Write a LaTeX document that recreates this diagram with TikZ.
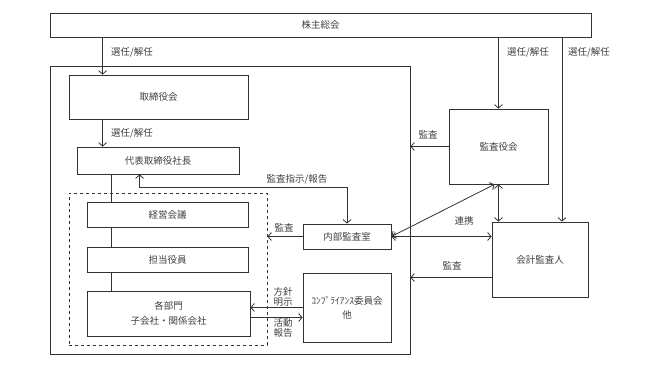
\documentclass[tikz,border=0pt]{standalone}
\usepackage{fontspec}
\setmainfont{Noto Sans CJK JP}
\usepackage{xcolor}
\usetikzlibrary{arrows.meta, positioning, calc}

\begin{document}
\begin{tikzpicture}[
  x=1pt, y=-1pt,
  font=\fontsize{9.5}{12}\selectfont,
  box/.style={draw=black!80, fill=white, text=black!75, align=center, inner sep=0pt, line width=0.8pt},
  lab/.style={text=black!75, align=center, inner sep=1pt, font=\fontsize{9.5}{11}\selectfont},
  arr/.style={-{Straight Barb[length=3.5pt,width=8pt]}, draw=black!80, line width=0.8pt},
  arr2/.style={{Straight Barb[length=3.5pt,width=8pt]}-{Straight Barb[length=3.5pt,width=8pt]}, draw=black!80, line width=0.8pt}
]
\useasboundingbox (0,0) rectangle (649,365);

% 枠（社内）
\node[box, fill=none, minimum width=360pt, minimum height=288pt] (outer) at (230,210) {};
\node[box, fill=none, dashed, minimum width=198pt, minimum height=152pt] (dash) at (168,269) {};

% 各ボックス
\node[box, minimum width=541pt, minimum height=24pt] (soukai) at (320.5,25) {株主総会};
\node[box, minimum width=179pt, minimum height=44pt] (torishimari) at (158.5,97) {取締役会};
\node[box, minimum width=162pt, minimum height=27pt] (daihyo) at (158,160.5) {代表取締役社長};
\node[box, minimum width=161pt, minimum height=25pt] (keiei) at (167.5,214.5) {経営会議};
\node[box, minimum width=161pt, minimum height=25pt] (tanto) at (167.5,259.5) {担当役員};
\node[box, minimum width=163pt, minimum height=45pt] (bumon) at (168.5,313.5) {各部門\\[3pt]子会社・関係会社};
\node[box, minimum width=88pt, minimum height=25pt] (naibu) at (347,236.5) {内部監査室};
\node[box, minimum width=88pt, minimum height=69pt] (compl) at (347,307.5) {ｺﾝﾌﾟﾗｲｱﾝｽ委員会\\[2pt]他};
\node[box, minimum width=99pt, minimum height=75pt] (kansayaku) at (498.5,146.5) {監査役会};
\node[box, minimum width=96pt, minimum height=75pt] (kaikei) at (540,259.5) {会計監査人};

% 選任/解任
\draw[arr] ([xshift=34pt]torishimari.north west |- soukai.south) -- ([xshift=34pt]torishimari.north west);
\draw[arr] ([xshift=34pt]torishimari.south west) -- ([xshift=34pt]torishimari.south west |- daihyo.north);
\draw[arr] (soukai.south -| kansayaku.north) -- (kansayaku.north);
\draw[arr] ([xshift=22pt]kaikei.north |- soukai.south) -- ([xshift=22pt]kaikei.north);
\node[lab] (l1) at (132,52) {選任/解任};
\node[lab] (l2) at (132,133) {選任/解任};
\node[lab] (l3) at (528,52) {選任/解任};
\node[lab] (l4) at (589,52) {選任/解任};

% 業務執行ライン
\draw[draw=black!80, line width=0.8pt] ([xshift=35pt]daihyo.south west) -- ([xshift=35pt]daihyo.south west |- keiei.north);
\draw[draw=black!80, line width=0.8pt] ([xshift=25pt]keiei.south west) -- ([xshift=25pt]keiei.south west |- tanto.north);
\draw[draw=black!80, line width=0.8pt] ([xshift=25pt]tanto.south west) -- ([xshift=25pt]tanto.south west |- bumon.north);

% 監査指示/報告
\draw[arr2] ([xshift=63pt]daihyo.south west) -- ++(0,13) -| (naibu.north);
\node[lab] (l5) at (297,179) {監査指示/報告};

% 監査
\draw[arr] (naibu.west) -- (naibu.west -| dash.east);
\node[lab] (l6) at (284,228) {監査};
\draw[arr] (kansayaku.west) -- (kansayaku.west -| outer.east);
\node[lab] (l7) at (428,135) {監査};
\draw[arr] ([yshift=-18pt]kaikei.west) -- ([yshift=-18pt]kaikei.west -| outer.east);
\node[lab] (l8) at (452,266) {監査};

% 連携
\draw[arr2] (kansayaku.south) -- (kansayaku.south |- kaikei.north);
\draw[arr2] (naibu.east) -- ([xshift=-4pt]kansayaku.south);
\draw[arr2] (naibu.east) -- (naibu.east -| kaikei.west);
\node[lab] (l9) at (464,221) {連携};

% 方針明示 / 活動報告
\draw[arr] (compl.west) -- (compl.west -| bumon.east);
\draw[arr] ([yshift=-4pt]bumon.east) -- ([yshift=-4pt]bumon.east -| compl.west);
\node[lab, font=\fontsize{9.5}{10}\selectfont] (l10) at (283,297) {方針\\明示};
\node[lab, font=\fontsize{9.5}{10}\selectfont] (l11) at (283,328) {活動\\報告};
\end{tikzpicture}
\end{document}
